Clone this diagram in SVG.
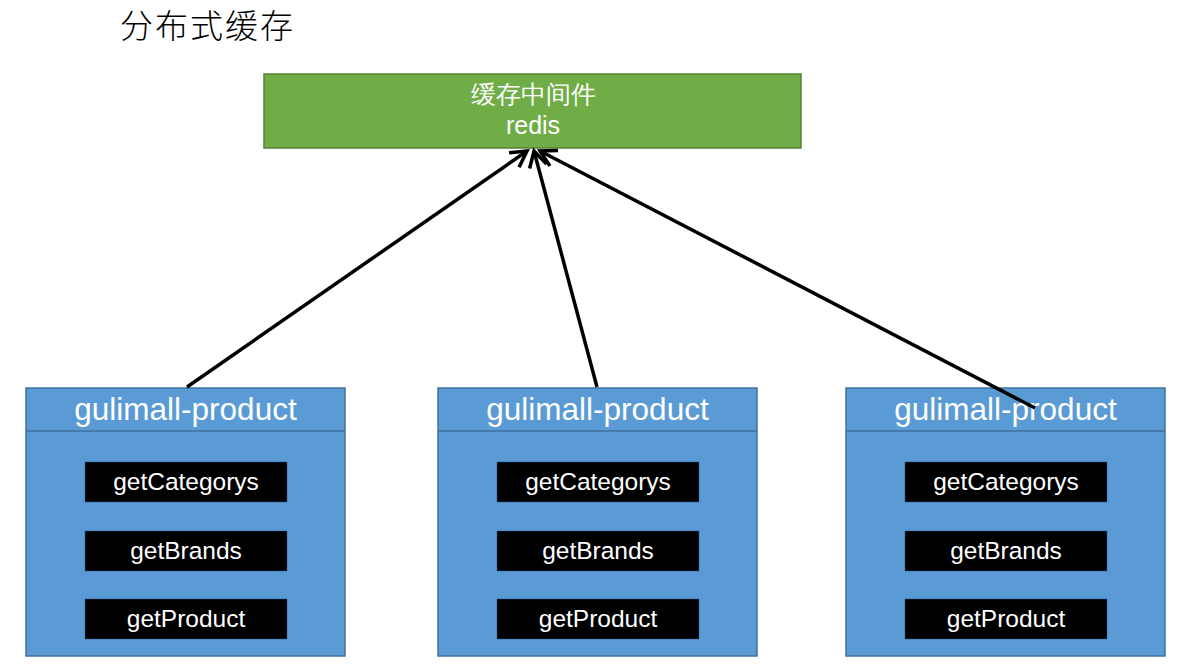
<svg xmlns="http://www.w3.org/2000/svg" width="1182" height="672" viewBox="0 0 1182 672">
<defs>
<style>
.cont{fill:#5B9BD5;stroke:#41719C;stroke-width:1.5}
.hdr{stroke:#41719C;stroke-width:1.5}
.m{fill:#000;stroke:#2F528F;stroke-width:0.5}
.t{font-family:"Liberation Sans",Arial,sans-serif;fill:#fff;text-anchor:middle}
.h{font-size:31.5px}
.mt{font-size:24.5px}
.conn{stroke:#000;stroke-width:3.5;fill:none;marker-end:url(#arr)}
</style>
<marker id="arr" viewBox="0 0 12 12" refX="10" refY="6" markerWidth="6" markerHeight="6" orient="auto" markerUnits="strokeWidth">
<path d="M1,1 L10,6 L1,11" fill="none" stroke="#000" stroke-width="2"/>
</marker>
</defs>
<rect width="1182" height="672" fill="#fff"/>
<text x="120" y="38" font-family="'Noto Sans CJK SC',sans-serif" font-size="33" font-weight="300" fill="#000" textLength="173" lengthAdjust="spacing">分布式缓存</text>
<g id="redis">
<rect x="264" y="74" width="537" height="74" fill="#70AD47" stroke="#548235" stroke-width="1.5"/>
<text class="t" x="533" y="103" font-size="24.5" font-weight="300" font-family="'Noto Sans CJK SC',sans-serif">缓存中间件</text>
<text class="t" x="533" y="134" font-size="25">redis</text>
</g>
<g id="product1">
<rect class="cont" x="26" y="388" width="319" height="268"/>
<line class="hdr" x1="26" y1="431" x2="345" y2="431"/>
<text class="t h" x="185.5" y="420">gulimall-product</text>
<rect class="m" x="85" y="462" width="202" height="40"/>
<text class="t mt" x="186" y="490">getCategorys</text>
<rect class="m" x="85" y="531" width="202" height="40"/>
<text class="t mt" x="186" y="559">getBrands</text>
<rect class="m" x="85" y="599" width="202" height="40"/>
<text class="t mt" x="186" y="627">getProduct</text>
</g>
<g id="product2">
<rect class="cont" x="438" y="388" width="319" height="268"/>
<line class="hdr" x1="438" y1="431" x2="757" y2="431"/>
<text class="t h" x="597.5" y="420">gulimall-product</text>
<rect class="m" x="497" y="462" width="202" height="40"/>
<text class="t mt" x="598" y="490">getCategorys</text>
<rect class="m" x="497" y="531" width="202" height="40"/>
<text class="t mt" x="598" y="559">getBrands</text>
<rect class="m" x="497" y="599" width="202" height="40"/>
<text class="t mt" x="598" y="627">getProduct</text>
</g>
<g id="product3">
<rect class="cont" x="846" y="388" width="319" height="268"/>
<line class="hdr" x1="846" y1="431" x2="1165" y2="431"/>
<text class="t h" x="1005.5" y="420">gulimall-product</text>
<rect class="m" x="905" y="462" width="202" height="40"/>
<text class="t mt" x="1006" y="490">getCategorys</text>
<rect class="m" x="905" y="531" width="202" height="40"/>
<text class="t mt" x="1006" y="559">getBrands</text>
<rect class="m" x="905" y="599" width="202" height="40"/>
<text class="t mt" x="1006" y="627">getProduct</text>
</g>
<g id="connectors">
<line class="conn" x1="187" y1="387" x2="527" y2="151"/>
<line class="conn" x1="597" y1="387" x2="534" y2="151"/>
<line class="conn" x1="1035" y1="408" x2="540" y2="151"/>
</g>
</svg>
